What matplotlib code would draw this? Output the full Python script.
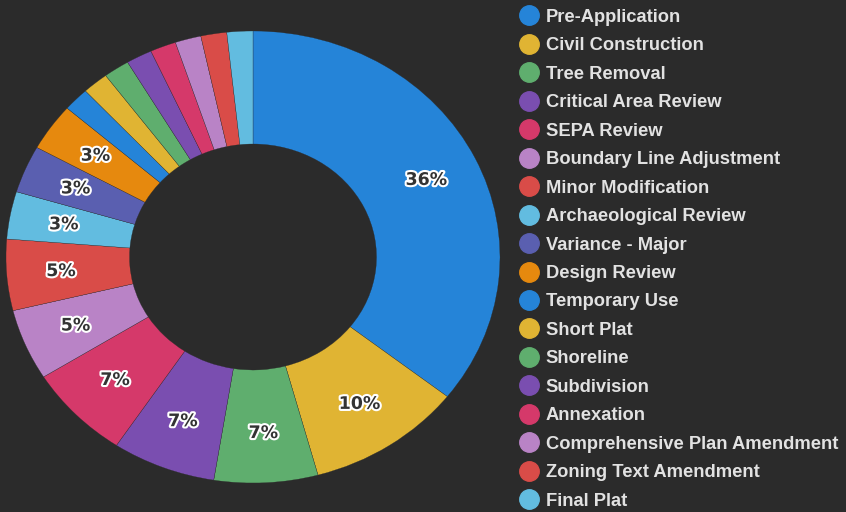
import matplotlib.pyplot as plt
import matplotlib.patheffects as pe
from matplotlib.lines import Line2D

# permit counts by type
labels = ["Pre-Application", "Civil Construction", "Tree Removal", "Critical Area Review",
          "SEPA Review", "Boundary Line Adjustment", "Minor Modification", "Archaeological Review",
          "Variance - Major", "Design Review", "Temporary Use", "Short Plat", "Shoreline",
          "Subdivision", "Annexation", "Comprehensive Plan Amendment", "Zoning Text Amendment",
          "Final Plat"]
counts = [21, 6, 4, 4, 4, 3, 3, 2, 2, 2, 1, 1, 1, 1, 1, 1, 1, 1]
colors = ["#2584d8", "#e0b433", "#5fae6e", "#7a4eb0", "#d5396a", "#b983c6", "#d94c48",
          "#62bce0", "#5a5fb0", "#e6890e", "#2584d8", "#e0b433", "#5fae6e", "#7a4eb0",
          "#d5396a", "#b983c6", "#d94c48", "#62bce0"]

bg = "#2b2b2b"
fig = plt.figure(figsize=(8.46, 5.12), dpi=100, facecolor=bg)
ax = fig.add_axes([6 / 846, 29 / 512, 494 / 846, 452 / 512])
ax.set_facecolor(bg)


def fmt(p):
    return f"{p:.0f}%" if p >= 3 else ""


wedges, texts, autotexts = ax.pie(counts, colors=colors, startangle=90, counterclock=False,
                                  radius=1, autopct=fmt, pctdistance=0.78,
                                  wedgeprops=dict(width=0.5, edgecolor=bg, linewidth=0.2))
for t in autotexts:
    t.set_color("#333333")
    t.set_fontsize(12.5)
    t.set_fontweight("bold")
    t.set_path_effects([pe.withStroke(linewidth=3, foreground="white")])

ax.set_aspect("auto")
ax.set_xlim(-1, 1)
ax.set_ylim(-1, 1)
ax.axis("off")

handles = [Line2D([], [], marker="o", linestyle="", markersize=14, markerfacecolor=c,
                  markeredgecolor=c) for c in colors]
leg = fig.legend(handles, labels, loc="upper left", bbox_to_anchor=(508 / 846, 0.997),
                 frameon=False, prop=dict(family="Liberation Sans", weight="bold", size=13.2),
                 labelspacing=0.625, handletextpad=0.2, handlelength=1.45, borderaxespad=0)
for t in leg.get_texts():
    t.set_color("#e2e2e2")

fig.savefig("out.png", dpi=100, facecolor=bg)
